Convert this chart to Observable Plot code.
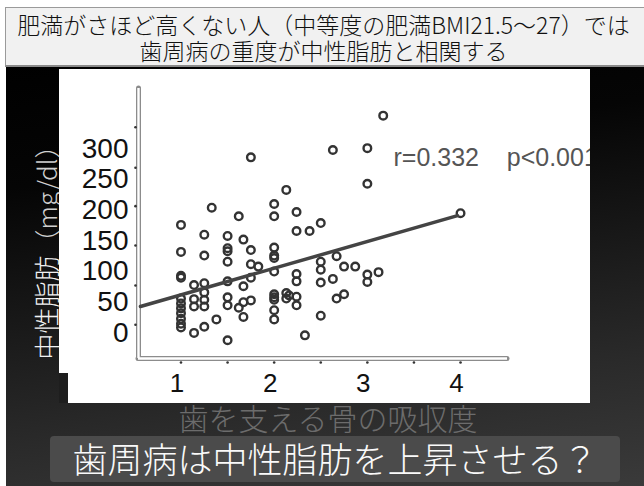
<!DOCTYPE html>
<html>
<head>
<meta charset="utf-8">
<script src="https://cdn.jsdelivr.net/npm/d3@7"></script>
<script src="https://cdn.jsdelivr.net/npm/@observablehq/plot@0.6"></script>
<style>
  html, body { margin: 0; padding: 0; }
  body { width: 644px; height: 486px; position: relative; overflow: hidden; background: #fff;
         font-family: "Noto Sans CJK JP", "Noto Sans", sans-serif; font-weight: 300; }
  #bg { position: absolute; left: 6px; top: 60px; right: 0; bottom: 0;
        background: linear-gradient(172deg, #000 0%, #050505 25%, #2a2a2a 75%, #3a3a3a 100%); }
  #title { position: absolute; left: 5px; top: 7px; width: 645px; height: 60px; box-sizing: border-box;
           background: #f1f1f1; border: 1px solid #9a9a9a; border-bottom: 2px solid #8a8a8a;
           text-align: center; color: #111; font-size: 23px; line-height: 26px; padding-top: 3px; padding-right: 8px; }
  #ylabel { position: absolute; left: 46px; top: 246px; transform: translate(-50%, -50%) rotate(-90deg);
            white-space: nowrap; color: #f2f2f2; font-size: 26px; line-height: 28px; }
  #ylabel span { color: #d0d0d0; }
  #xlabel { position: absolute; left: 328px; top: 417px; transform: translate(-50%, -50%);
            white-space: nowrap; color: #6c6c6c; font-size: 30px; line-height: 30px; }
  #panel { position: absolute; left: 59px; top: 69px; }
  #notch { position: absolute; left: 59px; top: 373px; width: 9px; height: 30px; background: #1e1e1e; }
  #caption { position: absolute; left: 50px; top: 436px; width: 570px; height: 46px; box-sizing: border-box;
             background: #4b4b4b; border-radius: 4px; color: #fafafa; text-align: center;
             font-size: 35px; line-height: 44px; white-space: nowrap; }
</style>
</head>
<body>
<div id="bg"></div>
<div id="title">肥満がさほど高くない人（中等度の肥満BMI21.5〜27）では<br>歯周病の重度が中性脂肪と相関する</div>
<div id="ylabel">中性脂肪<span>（mg/dl）</span></div>
<div id="xlabel">歯を支える骨の吸収度</div>
<div id="panel"></div>
<div id="notch"></div>
<div id="caption">歯周病は中性脂肪を上昇させる？</div>
<script>
// ---- data ----
const boneLoss = [
  1, 1, 1, 1, 1, 1, 1, 1, 1, 1, 1,
  1.14, 1.14, 1.14, 1.14,
  1.25, 1.25, 1.25, 1.25, 1.25, 1.25, 1.25,
  1.33, 1.38,
  1.5, 1.5, 1.5, 1.5, 1.5, 1.5, 1.5, 1.5,
  1.62, 1.62,
  1.67, 1.67, 1.67, 1.67,
  1.75, 1.75, 1.75, 1.75, 1.75,
  1.83,
  2, 2, 2, 2, 2, 2, 2, 2, 2, 2, 2,
  2.13, 2.13, 2.13, 2.16,
  2.24, 2.24, 2.24, 2.24, 2.24, 2.24,
  2.33, 2.38,
  2.5, 2.5, 2.5, 2.5, 2.5,
  2.63, 2.63, 2.67, 2.67, 2.75, 2.75, 2.87,
  3, 3, 3, 3, 3.12, 3.17, 4
];
const triglyceride = [
  176, 132, 93, 90, 56, 48, 40, 32, 23, 15, 9,
  78, 55, 43, 0,
  160, 126, 81, 66, 54, 43, 10,
  204, 22,
  158, 138, 133, 116, 84, 58, 45, -12,
  190, 41,
  152, 76, 50, 26,
  286, 135, 112, 90, 53,
  108,
  210, 190, 139, 126, 122, 100, 63, 58, 54, 37, 22,
  233, 65, 56, 61,
  197, 166, 96, 84, 59, 45,
  -4, 166,
  179, 116, 103, 82, 28,
  298, 88, 125, 56, 108, 63, 108,
  301, 243, 95, 83, 99, 354, 195
];
const fitX = [0.565, 3.968];
const fitY = [43, 191];
const yTickLabels = [0, 50, 100, 150, 200, 250, 300];
const yTickDots = [335, 269, 206.5, 142.4, 77.2, 13.2];
const xTickLabels = [1, 2, 3, 4];
const xTickDots = [1, 1.5, 2, 2.5, 3, 3.5, 4];
const xDomain = [0.544, 4.504];
const yDomain = [-41.7, 398.2];
const statText = "r=0.332    p<0.001";

const points = boneLoss.map((x, i) => ({x, y: triglyceride[i]}));
const fit = fitX.map((x, i) => ({x, y: fitY[i]}));
const num = "'Liberation Sans', Arial, sans-serif";

const chart = Plot.plot({
  width: 531,
  height: 334,
  marginLeft: 79,
  marginRight: 83,
  marginTop: 19,
  marginBottom: 45,
  x: {domain: xDomain},
  y: {domain: yDomain},
  style: {background: "white", overflow: "hidden"},
  marks: [
    Plot.ruleX([xDomain[0]], {stroke: "#8c8c8c", strokeWidth: 5, strokeLinecap: "round"}),
    Plot.ruleY([yDomain[0]], {stroke: "#8c8c8c", strokeWidth: 5, strokeLinecap: "round"}),
    Plot.ruleX([xDomain[0]], {stroke: "#fff", strokeWidth: 2.4}),
    Plot.ruleY([yDomain[0]], {stroke: "#fff", strokeWidth: 2.4}),
    Plot.dot(yTickDots, {x: () => xDomain[0], y: d => d, r: 1.3, fill: "#333", stroke: null, dx: -3}),
    Plot.dot(xTickDots, {x: d => d, y: () => yDomain[0], r: 1.3, fill: "#333", stroke: null, dy: 4}),
    Plot.axisY(yTickLabels, {tickSize: 0, tickPadding: 10, fontSize: 28, fontFamily: num, fill: "#111", label: null}),
    Plot.axisX(xTickLabels, {tickSize: 0, tickPadding: 15, fontSize: 26, fontFamily: num, fill: "#111", dx: -4, label: null}),
    Plot.dot(points, {x: "x", y: "y", r: 3.8, stroke: "#333", strokeWidth: 2.4, fill: "none"}),
    Plot.line(fit, {x: "x", y: "y", stroke: "#444", strokeWidth: 3.5, strokeLinecap: "round"}),
    Plot.text([statText], {frameAnchor: "top-left", dx: 255, dy: 69, textAnchor: "start", lineAnchor: "middle",
                           fontSize: 25, fontFamily: num, fill: "#555"})
  ]
});
document.getElementById("panel").appendChild(chart);
</script>
</body>
</html>
